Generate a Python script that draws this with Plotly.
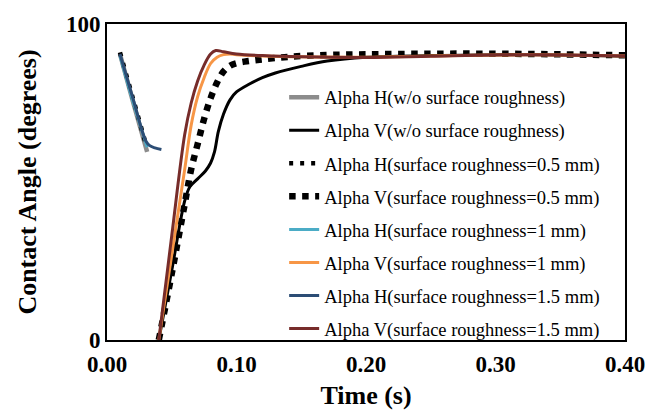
import plotly.graph_objects as go

# ---- data ----
t_h_wo = [0.010, 0.020, 0.031]
a_h_wo = [90.5, 75.5, 59.5]

t_v_wo = [0.040, 0.050, 0.060, 0.064, 0.070, 0.076, 0.080, 0.083, 0.086, 0.090, 0.095,
          0.100, 0.110, 0.120, 0.130, 0.150, 0.170, 0.200, 0.250, 0.300, 0.350, 0.400]
a_v_wo = [0, 22, 44, 48.5, 51.0, 53.5, 56, 59.5, 66, 71.5, 76,
          78.5, 81, 83, 84.5, 86.6, 88.3, 89.5, 90.0, 90.3, 90.2, 89.8]

t_h_05 = [0.010, 0.020, 0.030]
a_h_05 = [91.0, 76.5, 62.0]

t_v_05 = [0.040, 0.050, 0.060, 0.065, 0.070, 0.075, 0.080, 0.085, 0.090, 0.095, 0.100,
          0.110, 0.120, 0.140, 0.170, 0.200, 0.250, 0.300, 0.350, 0.400]
a_v_05 = [0, 21, 43, 54, 62, 70, 76.5, 81.5, 85, 86.8, 87.6,
          88.3, 88.8, 89.6, 90.2, 90.4, 90.6, 90.6, 90.4, 90.1]

t_h_1 = [0.010, 0.020, 0.031]
a_h_1 = [90.0, 75.5, 61.0]

t_v_1 = [0.040, 0.050, 0.060, 0.065, 0.070, 0.075, 0.080, 0.085, 0.090, 0.095, 0.100,
         0.120, 0.150, 0.200, 0.250, 0.300, 0.350, 0.400]
a_v_1 = [0, 27, 54, 68, 77, 83, 87.5, 89.5, 90.3, 90.5, 90.3,
         89.9, 89.6, 89.5, 89.9, 90.2, 90.2, 89.9]

t_h_15 = [0.010, 0.020, 0.030, 0.033, 0.037, 0.042]
a_h_15 = [90.5, 76.5, 63.0, 61.5, 60.8, 60.3]

t_v_15 = [0.040, 0.050, 0.060, 0.065, 0.070, 0.075, 0.080, 0.084, 0.090, 0.100,
          0.120, 0.150, 0.200, 0.250, 0.300, 0.350, 0.400]
a_v_15 = [0, 33, 65, 75, 82, 87, 90.5, 91.6, 91.2, 90.5,
          90.0, 89.6, 89.4, 89.8, 90.2, 90.2, 89.9]

names = [
    "Alpha H(w/o surface roughness)",
    "Alpha V(w/o surface roughness)",
    "Alpha H(surface roughness=0.5 mm)",
    "Alpha V(surface roughness=0.5 mm)",
    "Alpha H(surface roughness=1 mm)",
    "Alpha V(surface roughness=1 mm)",
    "Alpha H(surface roughness=1.5 mm)",
    "Alpha V(surface roughness=1.5 mm)",
]

x_ticks = [0.0, 0.1, 0.2, 0.3, 0.4]
x_tick_text = ["0.00", "0.10", "0.20", "0.30", "0.40"]
y_ticks = [0, 100]

series = [
    (t_h_wo, a_h_wo, dict(color="#8C8C8C", width=4.5, dash="solid")),
    (t_v_wo, a_v_wo, dict(color="#000000", width=3, dash="solid")),
    (t_h_05, a_h_05, dict(color="#000000", width=4.5, dash="4px,7px")),
    (t_v_05, a_v_05, dict(color="#000000", width=6.5, dash="dot")),
    (t_h_1, a_h_1, dict(color="#4BACC6", width=3, dash="solid")),
    (t_v_1, a_v_1, dict(color="#F79646", width=3, dash="solid")),
    (t_h_15, a_h_15, dict(color="#2C4D75", width=3, dash="solid")),
    (t_v_15, a_v_15, dict(color="#772C2A", width=3, dash="solid")),
]

fig = go.Figure()
for i, (tx, ay, ln) in enumerate(series):
    fig.add_trace(go.Scatter(
        x=tx, y=ay, mode="lines", name=names[i], line=ln,
        line_shape="spline", legendgroup=f"g{i}",
    ))

serif = "Liberation Serif, Times New Roman, serif"
fig.update_layout(
    width=657, height=417,
    margin=dict(l=107, r=25, t=19, b=76),
    paper_bgcolor="white", plot_bgcolor="white",
    font=dict(family=serif, color="black"),
    showlegend=True,
    legend=dict(
        x=0.342, y=0.827, xanchor="left", yanchor="top",
        bgcolor="rgba(0,0,0,0)", font=dict(family=serif, size=18.5, color="black"),
        tracegroupgap=6, itemwidth=30,
    ),
    xaxis=dict(
        range=[0, 0.4], tickvals=x_ticks, ticktext=x_tick_text,
        showgrid=False, zeroline=False, showline=True, linecolor="black",
        linewidth=2, mirror=True, ticks="", ticklabelstandoff=2,
        tickfont=dict(family=serif, size=23, color="black", weight="bold"),
        title=dict(text="<b>Time (s)</b>", font=dict(family=serif, size=26), standoff=10),
    ),
    yaxis=dict(
        range=[0, 100], tickvals=y_ticks,
        showgrid=False, zeroline=False, showline=True, linecolor="black",
        linewidth=2, mirror=True, ticks="",
        tickfont=dict(family=serif, size=23, color="black", weight="bold"),
        title=dict(text="<b>Contact Angle (degrees)</b>", font=dict(family=serif, size=26), standoff=22),
    ),
)

fig.write_html("out.html")
